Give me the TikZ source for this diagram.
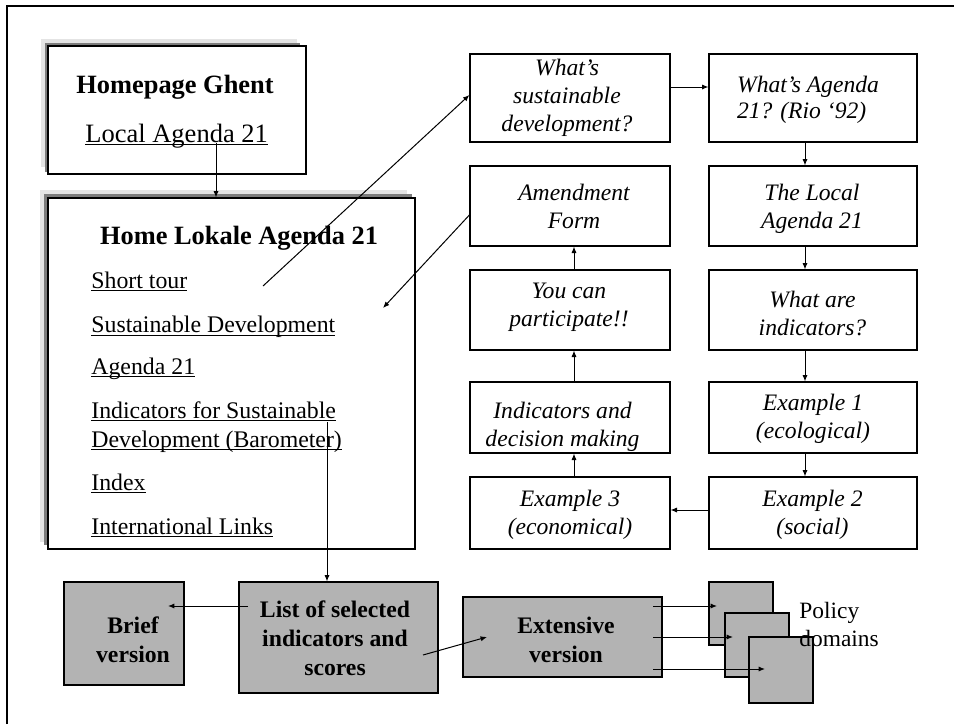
\documentclass[tikz,border=0pt]{standalone}
\usepackage{fontspec}
\setmainfont{Liberation Serif}
\usetikzlibrary{arrows.meta,calc}
\definecolor{boxgray}{RGB}{179,179,179}
\definecolor{shlight}{RGB}{228,228,228}
\definecolor{shdark}{RGB}{125,125,125}
\newsavebox\myulbox
\newcommand\myul[1]{\sbox\myulbox{#1}\rlap{\rule[-1.7pt]{\wd\myulbox}{0.5pt}}\usebox\myulbox}
\tikzset{
  wbox/.style={draw, fill=white, line width=0.6pt, inner sep=0pt},
  gbox/.style={draw, fill=boxgray, line width=0.6pt, inner sep=0pt},
  itxt/.style={font=\fontsize{11.8}{14}\selectfont\itshape, align=center, inner sep=0pt},
  btxt/.style={font=\fontsize{11.85}{14.5}\selectfont\bfseries, align=center, inner sep=0pt},
  ttl/.style={font=\fontsize{13.2}{15}\selectfont\bfseries, anchor=base, inner sep=0pt},
  lnk/.style={font=\fontsize{11.9}{14.5}\selectfont, anchor=base west, inner sep=0pt},
  conn/.style={-{Latex[length=3.2pt,width=2.6pt]}, line width=0.5pt},
}
\begin{document}
\begin{tikzpicture}[x=0.5pt,y=-0.5pt]
\useasboundingbox (0,0) rectangle (954,724);
% outer frame
\draw[line width=1pt] (7,724) -- (7,6) -- (954,6);

% Homepage Ghent box with shadow
\fill[shlight] (41,39) rectangle (297,167);
\fill[shdark] (45,43) rectangle (300,172);
\node[wbox, minimum width=129pt, minimum height=64pt] (homeg) at (177,110) {};
\node[ttl] (homegT) at (175,93) {Homepage Ghent};
\node[lnk, font=\fontsize{13.25}{15}\selectfont] (homegL) at (85,142) {\myul{Local Agenda 21}};

% Home Lokale box with shadow
\fill[shlight] (40,190) rectangle (407,542);
\fill[shdark] (44,194) rectangle (412,545);
\node[wbox, minimum width=183.5pt, minimum height=175.5pt] (homel) at (231.5,373.5) {};
\node[ttl] (homelT) at (239,244) {Home Lokale Agenda 21};
\node[lnk] (st) at (91,288) {\myul{Short tour}};
\node[lnk] (sd) at (91,332.5) {\myul{Sustainable Development}};
\node[lnk] (a21) at (91,374) {\myul{Agenda 21}};
\node[lnk] (isd1) at (91,418) {\myul{Indicators for Sustainable}};
\node[lnk] (isd2) at (91,447) {\myul{Development (Barometer)}};
\node[lnk] (idx) at (91,490) {\myul{Index}};
\node[lnk] (il) at (91,534) {\myul{International Links}};

% right column boxes
\node[wbox, minimum width=100pt, minimum height=44pt] (whatsd) at (570,98) {};
\node[wbox, minimum width=104pt, minimum height=44pt] (whata) at (813,98) {};
\node[wbox, minimum width=100pt, minimum height=40pt] (amend) at (570,206) {};
\node[wbox, minimum width=104pt, minimum height=40pt] (local) at (813,206) {};
\node[wbox, minimum width=100pt, minimum height=40pt] (you) at (570,310) {};
\node[wbox, minimum width=104pt, minimum height=40pt] (whatare) at (813,310) {};
\node[wbox, minimum width=100pt, minimum height=35.5pt] (indic) at (570,417.5) {};
\node[wbox, minimum width=104pt, minimum height=35.5pt] (ex1) at (813,417.5) {};
\node[wbox, minimum width=100pt, minimum height=36pt] (ex3) at (570,513) {};
\node[wbox, minimum width=104pt, minimum height=36pt] (ex2) at (813,513) {};

\node[itxt] (whatsdT) at (567,97.5) {What's\\sustainable\\development?};
\node[itxt, align=left, font=\fontsize{11.8}{13}\selectfont\itshape] (whataT) at (808,99.5) {What's Agenda\\21? (Rio `92)};
\node[itxt] (amendT) at (574,206.5) {Amendment\\Form};
\node[itxt] (localT) at (812,209) {The Local\\Agenda 21};
\node[itxt] (youT) at (569,307) {You can\\participate!!};
\node[itxt] (whatareT) at (812.5,313) {What are\\indicators?};
\node[itxt] (indicT) at (562.5,427) {Indicators and\\decision making};
\node[itxt] (ex1T) at (813,418.5) {Example 1\\(ecological)};
\node[itxt] (ex3T) at (570,514.5) {Example 3\\(economical)};
\node[itxt] (ex2T) at (812.5,514.5) {Example 2\\(social)};

% bottom gray boxes
\node[gbox, minimum width=60pt, minimum height=51.5pt] (brief) at (124,633.5) {};
\node[gbox, minimum width=99.5pt, minimum height=55.5pt] (list) at (338.5,637.5) {};
\node[gbox, minimum width=99.5pt, minimum height=40pt] (ext) at (562.5,637) {};
\node[gbox, minimum width=32pt, minimum height=31.5pt] (sq1) at (741,613.5) {};
\node[gbox, minimum width=32pt, minimum height=32pt] (sq2) at (757,645) {};
\node[gbox, minimum width=32pt, minimum height=33pt] (sq3) at (781,670) {};
\node[btxt] (briefT) at (133,639.5) {Brief\\version};
\node[btxt] (listT) at (335,638) {List of selected\\indicators and\\scores};
\node[btxt] (extT) at (566,640) {Extensive\\version};

% coordinates
\coordinate (rx) at (805,0);
\coordinate (lx) at (574,0);
\coordinate (ty) at (0,87);
\coordinate (by) at (0,510);
\coordinate (c1) at (216,143);
\coordinate (c2) at (263,286);
\coordinate (c3) at (383,308);
\coordinate (c4) at (327,422);
\coordinate (c5a) at (248,606);
\coordinate (c5b) at (168,606);
\coordinate (c6a) at (423,655);
\coordinate (c6b) at (487,637);
\coordinate (e1a) at (653,606);
\coordinate (e1b) at (717,606);
\coordinate (e2a) at (653,637);
\coordinate (e2b) at (733,637);
\coordinate (e3a) at (653,669);
\coordinate (e3b) at (765,669);

% connectors
\draw[conn] (c1) -- (homel.north -| c1);
\draw[conn] (c2) -- ($(whatsd.west)+(0,-3)$);
\draw[conn] ($(amend.west)+(0,9)$) -- (c3);
\draw[conn] (c4) -- (list.north -| c4);
\draw[conn] (c5a) -- (c5b);
\draw[conn] (c6a) -- (c6b);
\draw[conn] (e1a) -- (e1b);
\draw[conn] (e2a) -- (e2b);
\draw[conn] (e3a) -- (e3b);
\draw[conn] (whatsd.east |- ty) -- (whata.west |- ty);
\draw[conn] (whata.south -| rx) -- (local.north -| rx);
\draw[conn] (local.south -| rx) -- (whatare.north -| rx);
\draw[conn] (whatare.south -| rx) -- (ex1.north -| rx);
\draw[conn] (ex1.south -| rx) -- (ex2.north -| rx);
\draw[conn] (ex2.west |- by) -- (ex3.east |- by);
\draw[conn] (ex3.north -| lx) -- (indic.south -| lx);
\draw[conn] (indic.north -| lx) -- (you.south -| lx);
\draw[conn] (you.north -| lx) -- (amend.south -| lx);

\node[font=\fontsize{11.7}{14}\selectfont, align=left, anchor=west, inner sep=0pt] (policy) at (799,624) {Policy\\domains};
\end{tikzpicture}
\end{document}
